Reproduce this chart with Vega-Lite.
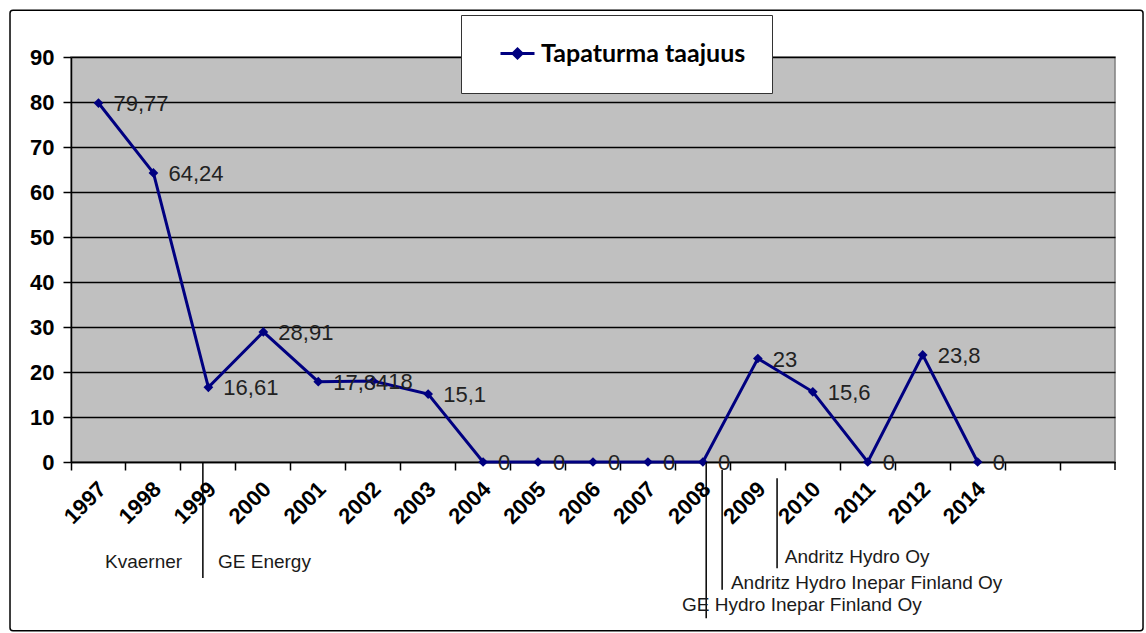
{
  "$schema": "https://vega.github.io/schema/vega-lite/v6.json",
  "autosize": {"type": "none"},
  "width": 1044,
  "height": 405,
  "padding": {"left": 71, "top": 57, "right": 31, "bottom": 171},
  "background": "white",
  "config": {
    "view": {"fill": "#C0C0C0", "stroke": "#808080", "strokeWidth": 1.5},
    "locale": {"number": {"decimal": ",", "thousands": "\u00a0", "grouping": [3], "currency": ["", " €"]}}
  },
  "data": {
    "values": [
      {"year": "1997", "value": 79.77, "series": "Tapaturma taajuus"},
      {"year": "1998", "value": 64.24, "series": "Tapaturma taajuus"},
      {"year": "1999", "value": 16.61, "series": "Tapaturma taajuus"},
      {"year": "2000", "value": 28.91, "series": "Tapaturma taajuus"},
      {"year": "2001", "value": 17.84, "series": "Tapaturma taajuus"},
      {"year": "2002", "value": 18, "series": "Tapaturma taajuus"},
      {"year": "2003", "value": 15.1, "series": "Tapaturma taajuus"},
      {"year": "2004", "value": 0, "series": "Tapaturma taajuus"},
      {"year": "2005", "value": 0, "series": "Tapaturma taajuus"},
      {"year": "2006", "value": 0, "series": "Tapaturma taajuus"},
      {"year": "2007", "value": 0, "series": "Tapaturma taajuus"},
      {"year": "2008", "value": 0, "series": "Tapaturma taajuus"},
      {"year": "2009", "value": 23, "series": "Tapaturma taajuus"},
      {"year": "2010", "value": 15.6, "series": "Tapaturma taajuus"},
      {"year": "2011", "value": 0, "series": "Tapaturma taajuus"},
      {"year": "2012", "value": 23.8, "series": "Tapaturma taajuus"},
      {"year": "2014", "value": 0, "series": "Tapaturma taajuus"}
    ]
  },
  "resolve": {"scale": {"x": "independent"}},
  "layer": [
    {
      "data": {"values": [{}]},
      "mark": {"type": "rect", "fill": null, "fillOpacity": 0, "stroke": "black", "strokeWidth": 1.5, "cornerRadius": 3},
      "encoding": {
        "x": {"datum": -1.11, "type": "quantitative", "scale": {"domain": [0, 19], "nice": false, "zero": false}, "axis": null},
        "x2": {"datum": 19.51},
        "y": {"datum": 100.4, "type": "quantitative", "scale": {"domain": [0, 90], "nice": false}, "title": null},
        "y2": {"datum": -37.5}
      }
    },
    {
      "encoding": {
        "x": {
          "field": "year", "type": "ordinal", "title": null,
          "scale": {"type": "band", "paddingInner": 0, "paddingOuter": 0,
            "domain": ["1997","1998","1999","2000","2001","2002","2003","2004","2005","2006","2007","2008","2009","2010","2011","2012","2014"," ","  "]},
          "axis": {
            "bandPosition": 0, "labelOffset": -3, "labelAngle": -45,
            "labelFont": "Liberation Sans", "labelFontWeight": "bold", "labelFontSize": 22, "labelColor": "black",
            "labelPadding": 8, "tickSize": 8, "tickColor": "black", "tickWidth": 1.5, "domainColor": "black", "domainWidth": 1.5,
            "grid": false
          }
        },
        "y": {
          "field": "value", "type": "quantitative", "title": null,
          "scale": {"domain": [0, 90], "nice": false},
          "axis": {
            "values": [0,10,20,30,40,50,60,70,80,90],
            "labelFont": "Liberation Sans", "labelFontWeight": "bold", "labelFontSize": 22, "labelColor": "black",
            "labelPadding": 9, "tickSize": 8, "tickColor": "black", "tickWidth": 1.5, "domainColor": "black", "domainWidth": 1.5,
            "grid": true, "gridColor": "black", "gridWidth": 1.5, "gridOpacity": 1
          }
        }
      },
      "layer": [
        {"mark": {"type": "line", "color": "#000080", "strokeWidth": 3}},
        {
          "mark": {"type": "point", "shape": "diamond", "filled": true, "size": 95, "opacity": 1},
          "encoding": {
            "color": {
              "field": "series", "type": "nominal",
              "scale": {"range": ["#000080"]},
              "legend": {
                "title": null, "orient": "none", "legendX": 390, "legendY": -42,
                "padding": 26, "fillColor": "white", "strokeColor": "#333333",
                "symbolType": "M-1,0H2.4M0.7,-0.45L1.15,0L0.7,0.45L0.25,0Z",
                "symbolSize": 400, "symbolOffset": 11, "symbolStrokeWidth": 3, "symbolStrokeColor": "#000080", "symbolFillColor": "#000080",
                "labelFont": "Lato", "labelFontWeight": "bold", "labelFontSize": 25, "labelColor": "black",
                "labelLimit": 400, "labelOffset": 18
              }
            }
          }
        },
        {
          "mark": {"type": "text", "align": "left", "baseline": "middle", "dx": 15, "dy": 1,
            "font": "Liberation Sans", "fontSize": 22, "color": "#222222"},
          "encoding": {"text": {"field": "value", "type": "quantitative", "format": "~g"}}
        }
      ]
    },
    {
      "data": {"values": [
        {"u": 2.40, "top": 0, "bottom": -25.8},
        {"u": 11.56, "top": 0, "bottom": -34.7},
        {"u": 11.85, "top": -1.8, "bottom": -28.4},
        {"u": 12.85, "top": -3.6, "bottom": -23.6},
        {"u": 19, "top": 0, "bottom": -1.78}
      ]},
      "mark": {"type": "rule", "color": "black", "strokeWidth": 1.5},
      "encoding": {
        "x": {"field": "u", "type": "quantitative", "scale": {"domain": [0, 19], "nice": false, "zero": false}, "axis": null},
        "y": {"field": "top", "type": "quantitative", "scale": {"domain": [0, 90], "nice": false}, "title": null},
        "y2": {"field": "bottom"}
      }
    },
    {
      "data": {"values": [
        {"name": "Kvaerner", "u": 0.62, "v": -22.2},
        {"name": "GE Energy", "u": 2.675, "v": -22.2},
        {"name": "GE Hydro Inepar Finland Oy", "u": 11.12, "v": -31.8},
        {"name": "Andritz Hydro Inepar Finland Oy", "u": 12.01, "v": -26.9},
        {"name": "Andritz Hydro Oy", "u": 12.99, "v": -21.1}
      ]},
      "mark": {"type": "text", "align": "left", "baseline": "middle", "font": "Liberation Sans", "fontSize": 19, "color": "#1a1a1a"},
      "encoding": {
        "x": {"field": "u", "type": "quantitative", "scale": {"domain": [0, 19], "nice": false, "zero": false}, "axis": null},
        "y": {"field": "v", "type": "quantitative", "scale": {"domain": [0, 90], "nice": false}, "title": null},
        "text": {"field": "name"}
      }
    }
  ]
}
